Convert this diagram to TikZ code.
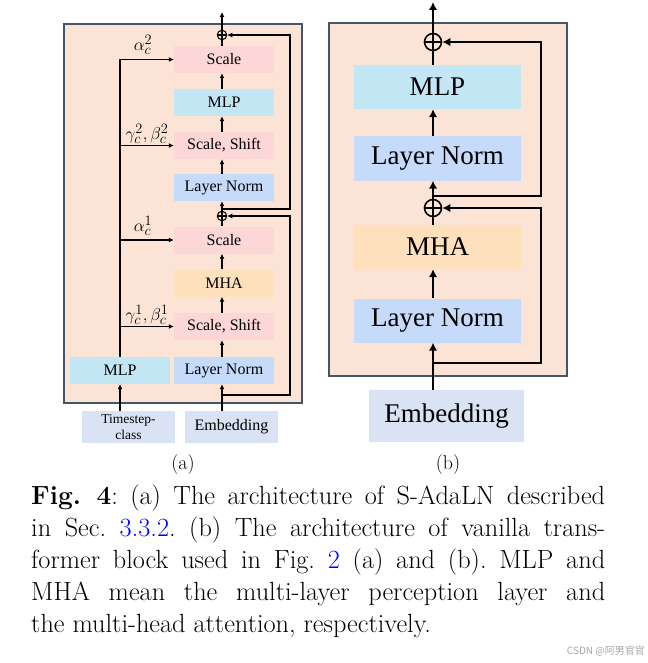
\documentclass[tikz,border=0pt]{standalone}
\usepackage{fontspec}
\newfontfamily\tnr{Liberation Serif}
\newfontfamily\cjk{Noto Sans CJK SC}
\usetikzlibrary{arrows.meta}
\definecolor{peach}{HTML}{FBE4D6}
\definecolor{frame}{HTML}{44546A}
\definecolor{pinkc}{HTML}{FDD6D7}
\definecolor{mlpc}{HTML}{C3E6F5}
\definecolor{lnc}{HTML}{C6DAFA}
\definecolor{mhac}{HTML}{FFE0BD}
\definecolor{embc}{HTML}{DAE3F3}
\definecolor{linkblue}{HTML}{0000FF}
\begin{document}
\begin{tikzpicture}[x=1pt,y=-1pt,
  abox/.style={rectangle, minimum width=100pt, minimum height=27pt, inner sep=0pt,
    font=\tnr\fontsize{16}{18}\selectfont, text=black},
  bbox/.style={rectangle, minimum width=167pt, minimum height=44pt, inner sep=0pt,
    font=\tnr\fontsize{27}{30}\selectfont, text=black},
  arr/.style={-{Latex[length=5pt,width=5pt]}, line width=1.1pt},
  ln/.style={line width=1.1pt},
  barr/.style={-{Latex[length=8pt,width=8.5pt]}, line width=1.7pt},
  bln/.style={line width=1.7pt},
  aplus/.style={circle, draw, line width=1pt, minimum size=9.5pt, inner sep=0pt},
  bplus/.style={circle, draw, line width=1.6pt, minimum size=17pt, inner sep=0pt},
  lab/.style={font=\fontsize{19}{21}\selectfont, inner sep=0pt},
  outer/.style={fill=peach, draw=frame}
]
\useasboundingbox (0,0) rectangle (647,663);

% ---------------- panel (a) ----------------
\draw[outer, line width=1.2pt] (64,24) rectangle (302,403);
\node[abox, fill=pinkc] (sc2) at (224,59.5) {Scale};
\node[abox, fill=mlpc] (mlp2) at (224,102.5) {MLP};
\node[abox, fill=pinkc] (ss2) at (224,145.5) {Scale, Shift};
\node[abox, fill=lnc] (ln2) at (224,187.5) {Layer Norm};
\node[abox, fill=pinkc] (sc1) at (224,240) {Scale};
\node[abox, fill=mhac] (mha) at (224,283) {MHA};
\node[abox, fill=pinkc] (ss1) at (224,326.5) {Scale, Shift};
\node[abox, fill=lnc] (ln1) at (224,370.5) {Layer Norm};
\node[abox, fill=mlpc] (cmlp) at (120,370.5) {MLP};
\node[abox, fill=embc, minimum width=93pt, minimum height=32pt,
      font=\tnr\fontsize{13.5}{16}\selectfont, align=center] (ts) at (128.5,427) {Timestep-\\class};
\node[abox, fill=embc, minimum width=93pt, minimum height=32pt] (emb) at (231.5,427) {Embedding};
\node[aplus] (a1) at (222,35) {};
\node[aplus] (a2) at (222,216) {};
\coordinate (atop) at (222,12);
\coordinate (ra) at (290,0);
\coordinate (s1) at (222,395);
\coordinate (s2) at (222,209);

% main path
\draw[arr] (emb.north -| a2) -- (ln1.south -| a2);
\draw[arr] (ln1.north -| a2) -- (ss1.south -| a2);
\draw[arr] (ss1.north -| a2) -- (mha.south -| a2);
\draw[arr] (mha.north -| a2) -- (sc1.south -| a2);
\draw[arr] (sc1.north -| a2) -- (ln2.south -| a2);
\draw[arr] (ln2.north -| a2) -- (ss2.south -| a2);
\draw[arr] (ss2.north -| a2) -- (mlp2.south -| a2);
\draw[arr] (mlp2.north -| a2) -- (sc2.south -| a2);
\draw[arr] (sc2.north -| a1) -- (atop);
\draw[ln] (a1.west) -- (a1.east);
\draw[ln] (a2.west) -- (a2.east);
% skips
\draw[arr] (s1) -| (ra |- a2) -- (a2.east);
\draw[arr] (s2) -| (ra |- a1) -- (a1.east);
% conditioning
\draw[arr] (ts.north -| cmlp) -- (cmlp.south);
\draw[ln] (cmlp.north) -- (cmlp.north |- sc2.west);
\draw[arr] (cmlp.north |- sc2.west) -- (sc2.west);
\draw[arr] (cmlp.north |- ss2.west) -- (ss2.west);
\draw[arr] (cmlp.north |- sc1.west) -- (sc1.west);
\draw[arr] (cmlp.north |- ss1.west) -- (ss1.west);
\node[lab] (l1) at (143,45) {$\alpha_c^2$};
\node[lab] (l2) at (147,134) {$\gamma_c^2,\beta_c^2$};
\node[lab] (l3) at (143,226) {$\alpha_c^1$};
\node[lab] (l4) at (147,315) {$\gamma_c^1,\beta_c^1$};

% ---------------- panel (b) ----------------
\draw[outer, line width=1.8pt] (329,23) rectangle (567,376);
\node[bbox, fill=mlpc] (bmlp) at (437.5,87) {MLP};
\node[bbox, fill=lnc] (bln2) at (437.5,158.5) {Layer Norm};
\node[bbox, fill=mhac] (bmha) at (437.5,247) {MHA};
\node[bbox, fill=lnc] (bln1) at (437.5,320.5) {Layer Norm};
\node[bbox, fill=embc, minimum width=155pt, minimum height=52pt] (bemb) at (446.5,416) {Embedding};
\node[bplus] (b1) at (433,42) {};
\node[bplus] (b2) at (433,208) {};
\coordinate (btop) at (433,2);
\coordinate (rb) at (541,0);
\coordinate (t1) at (433,363);
\coordinate (t2) at (433,196);

\draw[barr] (bemb.north -| b2) -- (bln1.south -| b2);
\draw[barr] (bln1.north -| b2) -- (bmha.south -| b2);
\draw[bln] (bmha.north -| b2) -- (b2.center);
\draw[barr] (b2.center) -- (bln2.south -| b2);
\draw[barr] (bln2.north -| b2) -- (bmlp.south -| b2);
\draw[barr] (bmlp.north -| b1) -- (btop);
\draw[bln] (b1.west) -- (b1.east);
\draw[bln] (b2.west) -- (b2.east);
\draw[barr] (t1) -| (rb |- b2) -- (b2.east);
\draw[barr] (t2) -| (rb |- b1) -- (b1.east);

% ---------------- captions ----------------
\node[font=\fontsize{20}{24}\selectfont, inner sep=0pt] (capa) at (183,465) {(a)};
\node[font=\fontsize{20}{24}\selectfont, inner sep=0pt] (capb) at (448,465) {(b)};
\node[anchor=north west, inner sep=0pt, text width=574pt, align=justify,
      font=\fontsize{26.3}{32}\selectfont\frenchspacing] (cap) at (31,485)
 {\textbf{Fig.\ 4}: (a) The architecture of S-AdaLN described\linebreak
  in Sec.\ \textcolor{linkblue}{3.3.2}. (b) The architecture of vanilla trans-\linebreak
  former block used in Fig.\ \textcolor{linkblue}{2} (a) and (b). MLP and\linebreak
  MHA mean the multi-layer perception layer and\linebreak
  the multi-head attention, respectively.};
\node[anchor=east, inner sep=0pt, text=black!35, font=\cjk\fontsize{10}{12}\selectfont] (wm) at (645,651) {CSDN @阿男官官};
\end{tikzpicture}
\end{document}
